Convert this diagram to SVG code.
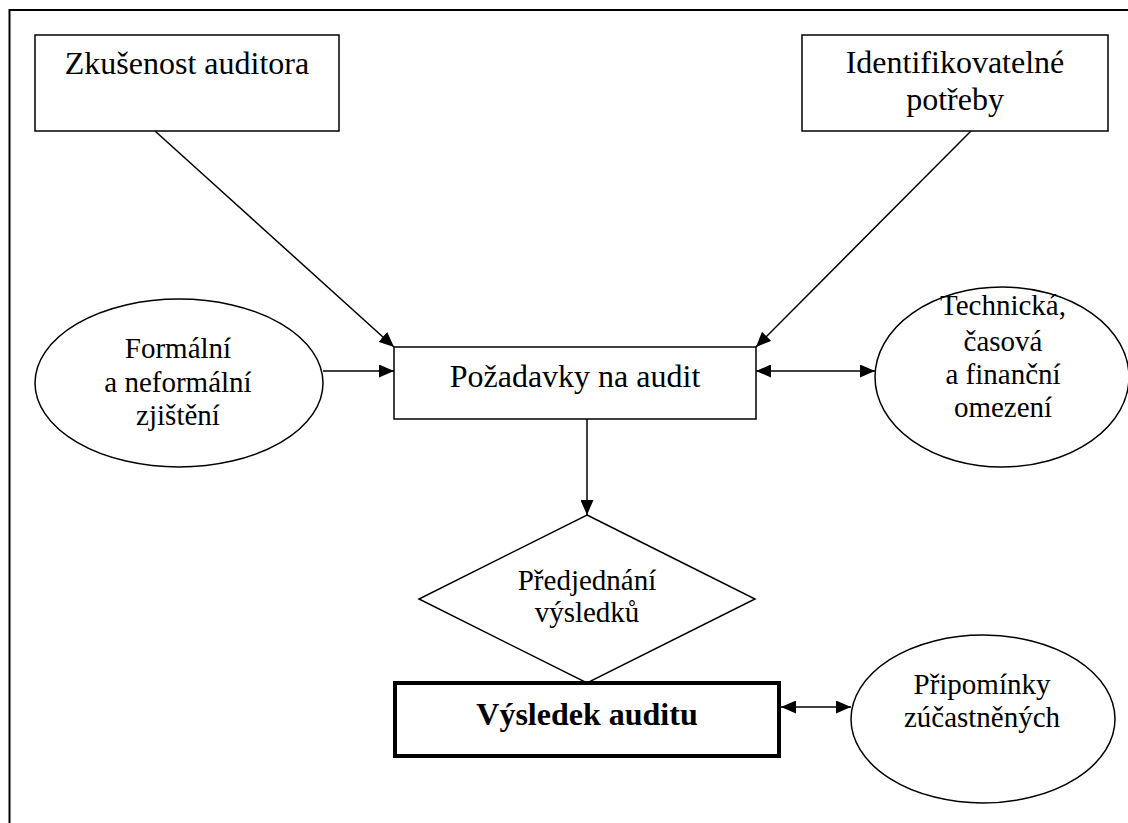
<svg xmlns="http://www.w3.org/2000/svg" width="1128" height="823" viewBox="0 0 1128 823" font-family="'Liberation Serif', 'Times New Roman', Times, serif">
<style>
.n{fill:#fff;stroke:#000;stroke-width:1.5}
.b{fill:#fff;stroke:#000;stroke-width:4}
text{font-family:'Liberation Serif','Times New Roman',Times,serif;font-size:32px;font-weight:normal;fill:#000;text-anchor:middle}
text.s{font-size:29px}
text.bold{font-weight:bold}
.c{stroke:#000;stroke-width:1.5;fill:none}
</style>
<defs>
<marker id="ah" viewBox="0 0 15 13" refX="15" refY="6.5" markerWidth="15" markerHeight="13" markerUnits="userSpaceOnUse" orient="auto-start-reverse">
<path d="M0,0 L15,6.5 L0,13 Z" fill="#000"/>
</marker>
</defs>
<rect x="9.5" y="10" width="1130" height="830" fill="none" stroke="#000" stroke-width="2"/>
<g id="connectors">
<line class="c" x1="155" y1="131" x2="394" y2="347" marker-end="url(#ah)"/>
<line class="c" x1="971" y1="131" x2="756" y2="347" marker-end="url(#ah)"/>
<line class="c" x1="323" y1="371" x2="394" y2="371" marker-end="url(#ah)"/>
<line class="c" x1="756" y1="371" x2="875" y2="371" marker-start="url(#ah)" marker-end="url(#ah)"/>
<line class="c" x1="587" y1="419" x2="587" y2="515" marker-end="url(#ah)"/>
<line class="c" x1="781" y1="707" x2="851" y2="707" marker-start="url(#ah)" marker-end="url(#ah)"/>
</g>
<g id="zkusenost">
<rect class="n" x="35" y="35" width="304" height="96"/>
<text x="187" y="74">Zkušenost auditora</text>
</g>
<g id="identifikovatelne">
<rect class="n" x="802" y="35" width="306" height="96"/>
<text x="955" y="73">Identifikovatelné</text>
<text x="955" y="110">potřeby</text>
</g>
<g id="formalni">
<ellipse class="n" cx="179" cy="383" rx="144" ry="84"/>
<text class="s" x="178" y="358">Formální</text>
<text class="s" x="178" y="392">a neformální</text>
<text class="s" x="178" y="425">zjištění</text>
</g>
<g id="pozadavky">
<rect class="n" x="394" y="347" width="362" height="72"/>
<text x="575" y="387">Požadavky na audit</text>
</g>
<g id="omezeni">
<ellipse class="n" cx="1002" cy="377" rx="127" ry="90"/>
<text class="s" x="1003" y="315">Technická,</text>
<text class="s" x="1003" y="351">časová</text>
<text class="s" x="1003" y="384">a finanční</text>
<text class="s" x="1003" y="417">omezení</text>
</g>
<g id="predjednani">
<polygon class="n" points="587,515 755,599 587,683 419,599"/>
<text class="s" x="587" y="590">Předjednání</text>
<text class="s" x="587" y="622">výsledků</text>
</g>
<g id="vysledek">
<rect class="b" x="395" y="683" width="384" height="73"/>
<text class="bold" x="587" y="725">Výsledek auditu</text>
</g>
<g id="pripominky">
<ellipse class="n" cx="983" cy="719" rx="132" ry="84"/>
<text class="s" x="982" y="694">Připomínky</text>
<text class="s" x="982" y="727">zúčastněných</text>
</g>
</svg>
